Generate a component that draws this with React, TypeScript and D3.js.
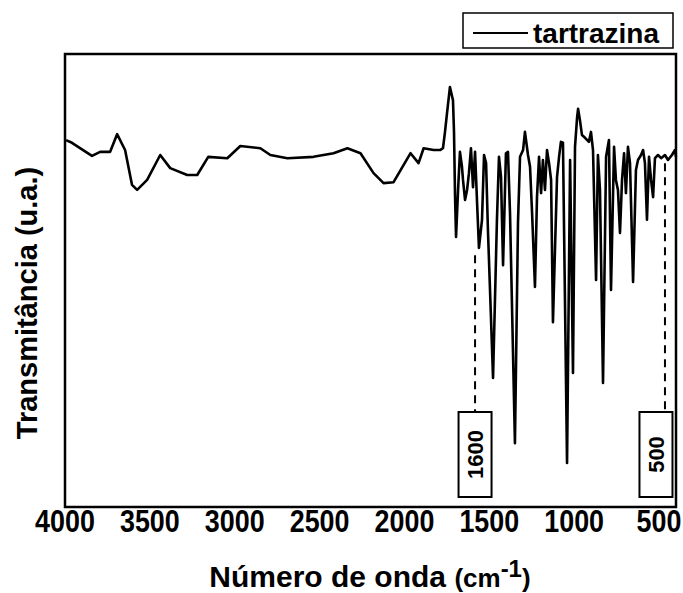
import React from "react";
import * as d3 from "d3";

const wavenumbers = [3994,3959,3841,3793,3734,3693,3646,3605,3575,3516,3439,3380,3280,3221,3156,3044,2967,2849,2790,2690,2536,2418,2336,2259,2182,2123,2064,1964,1917,1887,1828,1790,1773,1761,1749,1732,1714,1708,1702,1696,1684,1673,1661,1655,1643,1631,1620,1608,1596,1584,1572,1561,1543,1531,1519,1508,1478,1455,1443,1431,1419,1402,1390,1378,1349,1331,1319,1301,1290,1272,1260,1248,1231,1219,1207,1195,1184,1172,1160,1148,1136,1125,1101,1089,1078,1066,1042,1024,1007,995,983,977,966,954,936,913,901,889,871,860,848,830,812,795,783,765,754,742,730,718,706,695,683,671,653,636,624,606,594,583,571,559,547,535,524,506,488,465,447,424,406,400];
const transmittance = [81.0,80.4,77.5,78.4,78.4,82.3,78.8,71.1,70.0,72.2,77.7,74.8,73.3,73.3,77.3,77.0,79.7,79.2,77.7,77.0,77.3,78.1,79.2,78.1,73.7,71.5,71.7,78.1,75.9,79.2,78.8,78.8,79.2,82.8,87.0,92.7,89.8,82.8,68.9,59.6,70.0,78.4,75.1,72.2,67.8,70.0,73.7,79.2,70.6,78.4,67.1,57.2,63.4,77.7,75.9,61.1,28.5,63.4,77.3,72.8,53.4,78.1,78.4,64.9,14.1,62.7,77.3,78.8,82.8,77.7,75.1,64.9,48.6,68.4,77.3,69.3,76.6,70.0,78.8,75.9,72.2,40.8,72.8,77.3,80.6,80.4,9.7,76.6,29.6,79.5,85.9,87.9,85.4,82.1,81.5,80.6,82.8,78.8,50.1,77.7,70.0,27.4,77.3,81.0,47.9,79.5,72.2,70.0,60.5,72.2,78.1,69.3,79.5,75.9,49.7,74.4,76.6,77.7,78.8,75.9,63.4,77.3,72.2,68.4,77.0,77.7,77.0,77.7,76.6,77.7,78.8,77.3];

const xTicks = [4000, 3500, 3000, 2500, 2000, 1500, 1000, 500];
const seriesName = "tartrazina";
const annotationLabels = ["1600", "500"];
const annotationPositions = [1584, 465];
const annotationBoxCenters = [1584, 518];
const annotationTops = [55.6, 75.9];

const W = 683, H = 593;
const left = 65, right = 676, top = 54, bottom = 507;

export default function App() {
  const x = d3.scaleLinear().domain([4000, 400]).range([left, right]);
  const y = d3.scaleLinear().domain([0, 100]).range([bottom, top]);
  const pts = wavenumbers.map((w, i) => [w, transmittance[i]] as [number, number]);
  const line = d3.line<[number, number]>().x(d => x(d[0])).y(d => y(d[1]));
  const boxTop = 412, boxBottom = 497, boxW = 33;
  return (
    <svg width={W} height={H} style={{ position: "absolute", left: 0, top: 0, background: "#fff" }}>
      <rect x={0} y={0} width={W} height={H} fill="#fff" />
      <path d={line(pts) || ""} fill="none" stroke="#000" strokeWidth={2.6} strokeLinejoin="round" />
      {annotationPositions.map((w, i) => {
        const lx = x(w);
        const bx = x(annotationBoxCenters[i]);
        return (
          <g key={i}>
            <line x1={lx} x2={lx} y1={y(annotationTops[i])} y2={boxTop} stroke="#000" strokeWidth={2} strokeDasharray="8,6" />
            <rect x={bx - boxW / 2} y={boxTop} width={boxW} height={boxBottom - boxTop} fill="#fff" stroke="#000" strokeWidth={2} />
            <text transform={`translate(${bx + 8},${(boxTop + boxBottom) / 2}) rotate(-90)`} textAnchor="middle" fontFamily="'Liberation Sans', Arial, sans-serif" fontWeight="bold" fontSize={22}>{annotationLabels[i]}</text>
          </g>
        );
      })}
      <rect x={left} y={top} width={right - left} height={bottom - top} fill="none" stroke="#000" strokeWidth={2.5} />
      {xTicks.map(t => (
        <text key={t} transform={`translate(${x(t)},532) scale(0.84,1)`} textAnchor="middle" fontFamily="'Liberation Sans', Arial, sans-serif" fontWeight="bold" fontSize={32}>{t}</text>
      ))}
      <text x={370} y={587} textAnchor="middle" fontFamily="'Liberation Sans', Arial, sans-serif" fontWeight="bold" fontSize={30}>
        Número de onda <tspan fontSize={26}>(cm</tspan><tspan fontSize={24} dy={-10}>-1</tspan><tspan fontSize={26} dy={10}>)</tspan>
      </text>
      <text transform={`translate(37,${303}) rotate(-90)`} textAnchor="middle" fontFamily="'Liberation Sans', Arial, sans-serif" fontWeight="bold" fontSize={29}>Transmitância (u.a.)</text>
      <rect x={463} y={13} width={210} height={35} fill="#fff" stroke="#000" strokeWidth={1.5} />
      <line x1={473} x2={528} y1={33} y2={33} stroke="#000" strokeWidth={2} />
      <text x={533} y={43} fontFamily="'Liberation Sans', Arial, sans-serif" fontWeight="bold" fontSize={28}>{seriesName}</text>
    </svg>
  );
}
